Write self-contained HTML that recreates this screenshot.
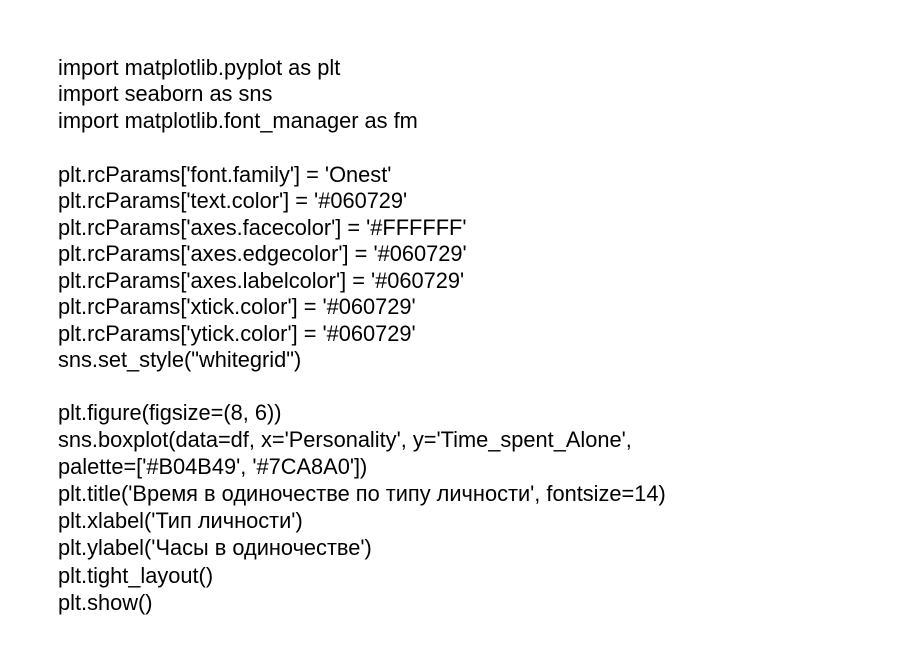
<!DOCTYPE html>
<html><head><meta charset="utf-8"><style>
html,body{margin:0;padding:0;background:#fff;width:900px;height:672px;overflow:hidden}
.l{position:absolute;left:58px;font-family:"Liberation Sans","Noto Sans CJK SC",sans-serif;font-size:21.8px;color:#000;white-space:pre;line-height:26px}
</style></head><body>
<div class="l" style="top:55px">import matplotlib.pyplot as plt</div>
<div class="l" style="top:81px">import seaborn as sns</div>
<div class="l" style="top:108px">import matplotlib.font_manager as fm</div>
<div class="l" style="top:162px">plt.rcParams['font.family'] = 'Onest'</div>
<div class="l" style="top:188px">plt.rcParams['text.color'] = '#060729'</div>
<div class="l" style="top:215px">plt.rcParams['axes.facecolor'] = '#FFFFFF'</div>
<div class="l" style="top:241px">plt.rcParams['axes.edgecolor'] = '#060729'</div>
<div class="l" style="top:268px">plt.rcParams['axes.labelcolor'] = '#060729'</div>
<div class="l" style="top:294px">plt.rcParams['xtick.color'] = '#060729'</div>
<div class="l" style="top:321px">plt.rcParams['ytick.color'] = '#060729'</div>
<div class="l" style="top:347px">sns.set_style("whitegrid")</div>
<div class="l" style="top:400px">plt.figure(figsize=(8, 6))</div>
<div class="l" style="top:427px">sns.boxplot(data=df, x='Personality', y='Time_spent_Alone',</div>
<div class="l" style="top:454px">palette=['#B04B49', '#7CA8A0'])</div>
<div class="l" style="top:481px">plt.title('Время в одиночестве по типу личности', fontsize=14)</div>
<div class="l" style="top:508px">plt.xlabel('Тип личности')</div>
<div class="l" style="top:535px">plt.ylabel('Часы в одиночестве')</div>
<div class="l" style="top:563px">plt.tight_layout()</div>
<div class="l" style="top:590px">plt.show()</div>
</body></html>
